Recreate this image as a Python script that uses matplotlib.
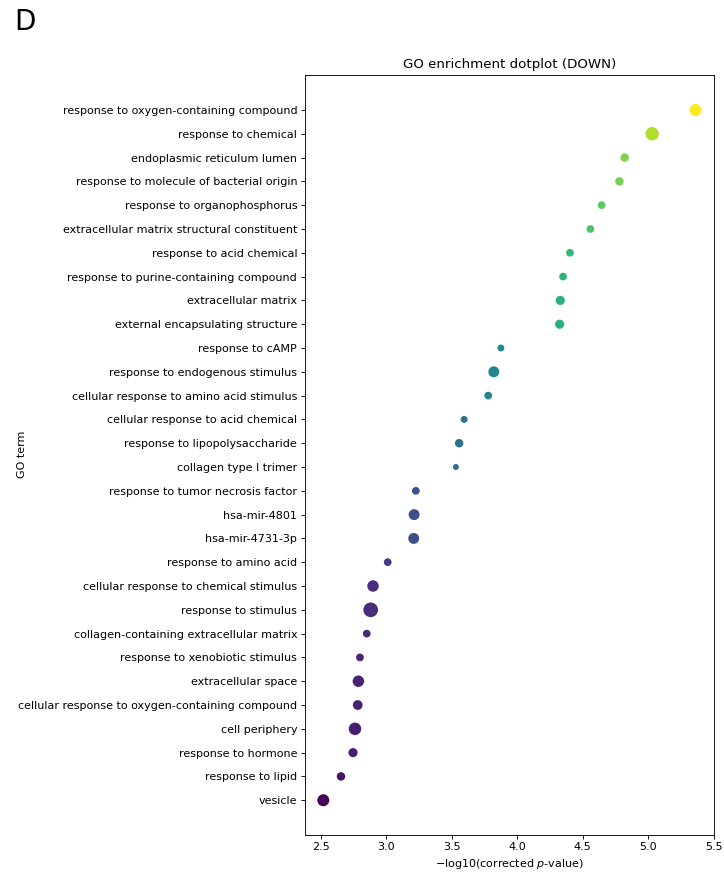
import matplotlib
matplotlib.use("Agg")
import matplotlib.pyplot as plt
import numpy as np

terms = [
    "response to oxygen-containing compound",
    "response to chemical",
    "endoplasmic reticulum lumen",
    "response to molecule of bacterial origin",
    "response to organophosphorus",
    "extracellular matrix structural constituent",
    "response to acid chemical",
    "response to purine-containing compound",
    "extracellular matrix",
    "external encapsulating structure",
    "response to cAMP",
    "response to endogenous stimulus",
    "cellular response to amino acid stimulus",
    "cellular response to acid chemical",
    "response to lipopolysaccharide",
    "collagen type I trimer",
    "response to tumor necrosis factor",
    "hsa-mir-4801",
    "hsa-mir-4731-3p",
    "response to amino acid",
    "cellular response to chemical stimulus",
    "response to stimulus",
    "collagen-containing extracellular matrix",
    "response to xenobiotic stimulus",
    "extracellular space",
    "cellular response to oxygen-containing compound",
    "cell periphery",
    "response to hormone",
    "response to lipid",
    "vesicle",
]

neg_log10_p = [
    5.362, 5.031, 4.821, 4.781, 4.645, 4.559, 4.403, 4.350, 4.329, 4.324,
    3.875, 3.821, 3.778, 3.594, 3.556, 3.531, 3.225, 3.212, 3.209, 3.010,
    2.898, 2.880, 2.850, 2.798, 2.786, 2.781, 2.760, 2.745, 2.653, 2.518,
]

gene_count = [
    12, 15, 6, 6, 5, 5, 5, 5, 7, 7,
    4, 10, 5, 4, 6, 3, 5, 10, 10, 5,
    11, 18, 5, 5, 11, 8, 13, 7, 6, 12,
]

xticks = [2.5, 3.0, 3.5, 4.0, 4.5, 5.0, 5.5]

fig = plt.figure(figsize=(724 / 80, 881 / 80), dpi=80)
ax = fig.add_axes([305 / 724, 1 - 834.5 / 881, (713.5 - 305) / 724, (834.5 - 75) / 881])

ypos = np.arange(len(terms))
x = np.array(neg_log10_p)
ax.scatter(x, ypos, s=np.array(gene_count) * 9.7, c=x, cmap="viridis",
           vmin=x.min(), vmax=x.max(), edgecolors="none", zorder=3)

ax.set_yticks(ypos)
ax.set_yticklabels(terms)
ax.set_ylim(30.44, -1.47)
ax.set_xlim(2.378, 5.5)
ax.set_xticks(xticks)
ax.set_xticklabels([f"{t:.1f}" for t in xticks])
ax.set_xlabel("\u2212log10(corrected $p$-value)")
ax.set_ylabel("GO term")
ax.yaxis.set_label_coords(-0.68, 0.5)
ax.set_title("GO enrichment dotplot (DOWN)")

fig.text(14 / 724, 1 - 8 / 881, "D", fontsize=25, ha="left", va="top")

fig.savefig("out.png", dpi=80)
